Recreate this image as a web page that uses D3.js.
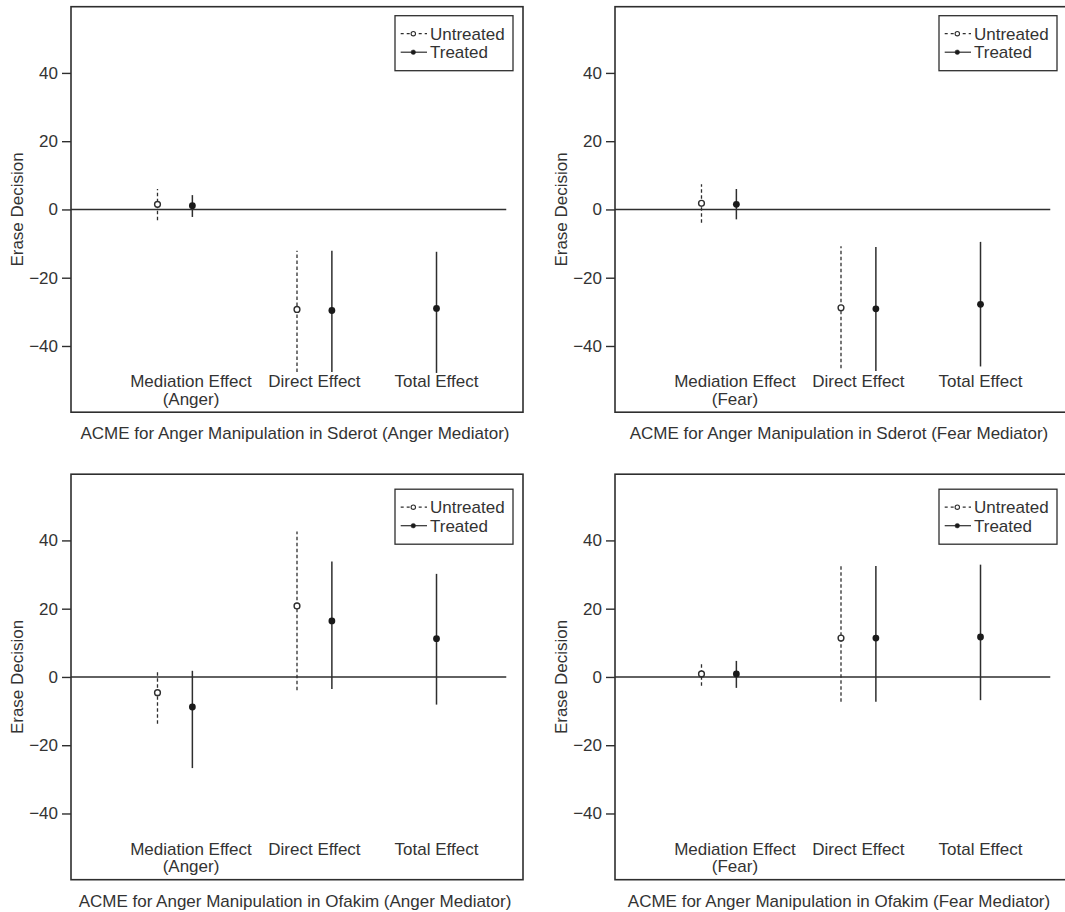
<!DOCTYPE html>
<html>
<head>
<meta charset="utf-8">
<script src="https://cdn.jsdelivr.net/npm/d3@7"></script>
<style>
  html, body { margin: 0; padding: 0; background: #fff; overflow: hidden; }
  svg text { font-family: "Liberation Sans", Arial, sans-serif; fill: #333; }
</style>
</head>
<body>
<div id="chart"></div>
<script>
// Kategori dan label
var categories = ["Mediation Effect", "Direct Effect", "Total Effect"];
var mediators = ["Anger", "Fear", "Anger", "Fear"];
var panelTitles = [
  "ACME for Anger Manipulation in Sderot (Anger Mediator)",
  "ACME for Anger Manipulation in Sderot (Fear Mediator)",
  "ACME for Anger Manipulation in Ofakim (Anger Mediator)",
  "ACME for Anger Manipulation in Ofakim (Fear Mediator)"
];
var yTicks = [-40, -20, 0, 20, 40];
var legendLabels = ["Untreated", "Treated"];

// [estimasi, batas bawah, batas atas] untuk mediation dan direct
var sderotAngerUntreated = [[1.5, -3.2, 6.0], [-29.3, -47.6, -12.1]];
var sderotAngerTreated = [[1.1, -2.2, 4.2], [-29.6, -47.6, -12.1]];
var sderotAngerTotal = [-29.0, -47.9, -12.4];

var sderotFearUntreated = [[1.8, -3.9, 7.4], [-28.8, -46.5, -10.8]];
var sderotFearTreated = [[1.5, -2.9, 6.0], [-29.1, -47.3, -11.0]];
var sderotFearTotal = [-27.8, -46.0, -9.5];

var ofakimAngerUntreated = [[-4.6, -13.7, 1.8], [20.8, -3.9, 42.6]];
var ofakimAngerTreated = [[-8.8, -26.7, 1.8], [16.4, -3.5, 33.8]];
var ofakimAngerTotal = [11.2, -8.1, 30.2];

var ofakimFearUntreated = [[0.9, -2.6, 4.1], [11.4, -7.3, 32.5]];
var ofakimFearTreated = [[0.9, -3.2, 4.7], [11.4, -7.3, 32.5]];
var ofakimFearTotal = [11.7, -6.8, 32.9];

var untreatedSets = [sderotAngerUntreated, sderotFearUntreated, ofakimAngerUntreated, ofakimFearUntreated];
var treatedSets = [sderotAngerTreated, sderotFearTreated, ofakimAngerTreated, ofakimFearTreated];
var totalSets = [sderotAngerTotal, sderotFearTotal, ofakimAngerTotal, ofakimFearTotal];

var catPos = [1, 2, 3];
var labelPos = [1.24, 2.125, 3];
var treatedOffset = 0.25;

var W = 1065, H = 912;
var boxW = 452, boxH = 405.5;
var panelX = [71, 615];
var panelY = [6.7, 474.2];
var legendTop = [9, 15];
var ink = "#2e2e2e";

var svg = d3.select("#chart").append("svg")
  .attr("width", W)
  .attr("height", H);

var x = d3.scaleLinear().domain([0.38, 3.62]).range([0, boxW]);
var y = d3.scaleLinear().domain([-59.4, 59.4]).range([boxH, 0]);

function drawPanel(i) {
  var col = i % 2, row = Math.floor(i / 2);
  var g = svg.append("g")
    .attr("transform", "translate(" + panelX[col] + "," + panelY[row] + ")");

  // Kotak
  g.append("rect")
    .attr("width", boxW).attr("height", boxH)
    .attr("fill", "none").attr("stroke", ink).attr("stroke-width", 1.6);

  // Sumbu Y
  var ax = g.append("g")
    .call(d3.axisLeft(y).tickValues(yTicks).tickSize(9).tickPadding(4));
  ax.select(".domain").remove();
  ax.selectAll(".tick line").attr("stroke", ink).attr("stroke-width", 1.4);
  ax.selectAll(".tick text").style("font-size", "17px").attr("fill", "#333");

  // Garis nol
  g.append("line")
    .attr("x1", x(0.38)).attr("x2", x(3.5))
    .attr("y1", y(0)).attr("y2", y(0))
    .attr("stroke", ink).attr("stroke-width", 1.5);

  var un = untreatedSets[i], tr = treatedSets[i], tot = totalSets[i];

  // Untreated: garis putus-putus, lingkaran kosong
  un.forEach(function (d, k) {
    var px = x(catPos[k]);
    g.append("line")
      .attr("x1", px).attr("x2", px)
      .attr("y1", y(d[1])).attr("y2", y(d[2]))
      .attr("stroke", ink).attr("stroke-width", 1.3)
      .attr("stroke-dasharray", "3.5,2.5");
    g.append("circle")
      .attr("cx", px).attr("cy", y(d[0])).attr("r", 2.9)
      .attr("fill", "#fff").attr("stroke", ink).attr("stroke-width", 1.4);
  });

  // Treated: garis penuh, titik penuh
  var solid = tr.map(function (d, k) { return [catPos[k] + treatedOffset, d]; });
  solid.push([catPos[2], tot]);
  solid.forEach(function (p) {
    var px = x(p[0]), d = p[1];
    g.append("line")
      .attr("x1", px).attr("x2", px)
      .attr("y1", y(d[1])).attr("y2", y(d[2]))
      .attr("stroke", ink).attr("stroke-width", 1.5);
    g.append("circle")
      .attr("cx", px).attr("cy", y(d[0])).attr("r", 3.4)
      .attr("fill", "#1a1a1a");
  });

  // Label kategori
  categories.forEach(function (c, k) {
    g.append("text")
      .attr("x", x(labelPos[k])).attr("y", boxH - 24.8)
      .attr("text-anchor", "middle").style("font-size", "17px")
      .text(c);
  });
  g.append("text")
    .attr("x", x(labelPos[0])).attr("y", boxH - 7.3)
    .attr("text-anchor", "middle").style("font-size", "17px")
    .text("(" + mediators[i] + ")");

  // Judul bawah
  g.append("text")
    .attr("x", 224).attr("y", boxH + 27.2)
    .attr("text-anchor", "middle").style("font-size", "17px")
    .text(panelTitles[i]);

  // Label sumbu Y
  g.append("text")
    .attr("transform", "translate(-48," + y(0) + ") rotate(-90)")
    .attr("text-anchor", "middle").style("font-size", "17px")
    .text("Erase Decision");

  // Legenda
  var lg = g.append("g").attr("transform", "translate(324," + legendTop[row] + ")");
  lg.append("rect")
    .attr("width", 118).attr("height", 55)
    .attr("fill", "#fff").attr("stroke", ink).attr("stroke-width", 1.3);
  legendLabels.forEach(function (lab, k) {
    var cy = 18 + k * 18.5;
    lg.append("line")
      .attr("x1", 5.7).attr("x2", 32)
      .attr("y1", cy).attr("y2", cy)
      .attr("stroke", ink).attr("stroke-width", 1.2)
      .attr("stroke-dasharray", k === 0 ? "3,3" : null);
    lg.append("circle")
      .attr("cx", 18.3).attr("cy", cy).attr("r", k === 0 ? 2.2 : 2.3)
      .attr("fill", k === 0 ? "#fff" : "#1a1a1a")
      .attr("stroke", ink).attr("stroke-width", k === 0 ? 1.1 : 0.5);
    lg.append("text")
      .attr("x", 35).attr("y", cy + 5.9)
      .style("font-size", "17px")
      .text(lab);
  });
}

for (var i = 0; i < 4; i++) {
  drawPanel(i);
}
</script>
</body>
</html>
